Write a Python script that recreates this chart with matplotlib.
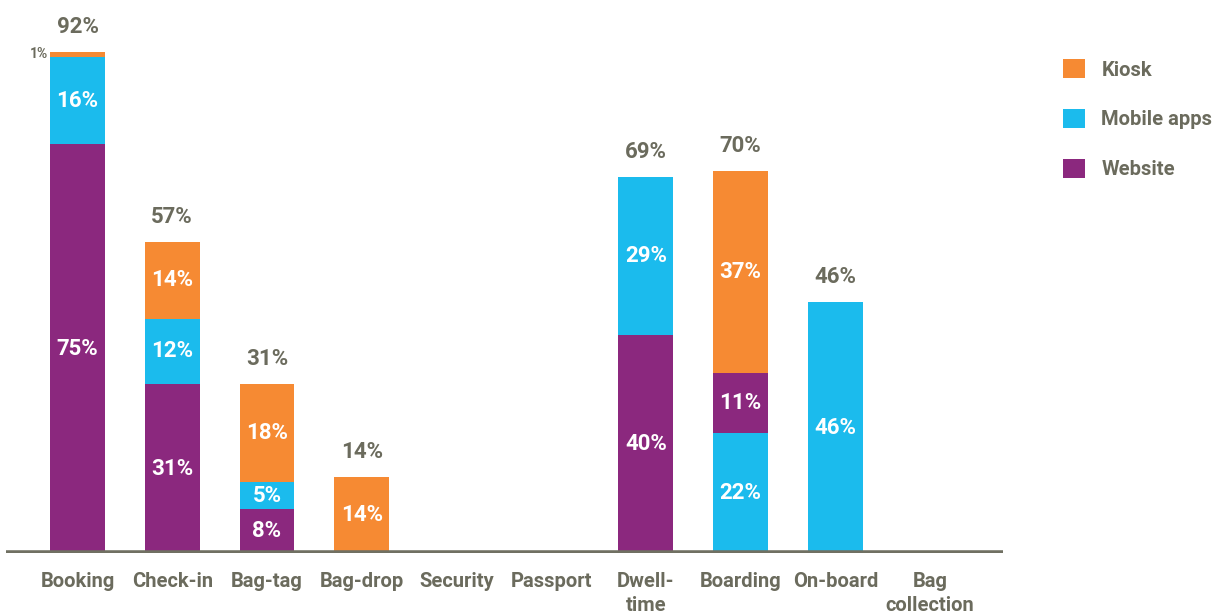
import matplotlib.pyplot as plt
from matplotlib.patches import Patch

# passenger journey steps and self-service channel shares (%)
steps = ["Booking", "Check-in", "Bag-tag", "Bag-drop", "Security", "Passport",
         "Dwell-\ntime", "Boarding", "On-board", "Bag\ncollection"]
website = [75, 31, 8, 0, 0, 0, 40, 11, 0, 0]
mobile_apps = [16, 12, 5, 0, 0, 0, 29, 22, 46, 0]
kiosk = [1, 14, 18, 14, 0, 0, 0, 37, 0, 0]

PURPLE = "#8b287e"
CYAN = "#1bbbed"
ORANGE = "#f68a33"
GRAY = "#6b6b5d"

plt.rcParams["font.family"] = ["Roboto", "DejaVu Sans"]
plt.rcParams["font.weight"] = "bold"

series = {
    "Website": (website, PURPLE),
    "Mobile apps": (mobile_apps, CYAN),
    "Kiosk": (kiosk, ORANGE),
}
default_order = ["Website", "Mobile apps", "Kiosk"]
# boarding puts mobile apps at the bottom of the stack
stack_order = {"Boarding": ["Mobile apps", "Website", "Kiosk"]}

BAR_W = 0.58

fig = plt.figure(figsize=(12.27, 6.15), dpi=100)
ax = fig.add_axes([6 / 1227, 62 / 615, 997 / 1227, 553 / 615])

for i, step in enumerate(steps):
    bottom = 0
    for name in stack_order.get(step, default_order):
        vals, color = series[name]
        v = vals[i]
        if v == 0:
            continue
        ax.bar(i, v, bottom=bottom, width=BAR_W, color=color, linewidth=0)
        if v >= 3:
            ax.text(i, bottom + v / 2, f"{v}%", ha="center", va="center",
                    color="white", fontsize=16, fontweight="bold")
        else:
            ax.text(i - BAR_W / 2 - 0.02, bottom + v / 2, f"{v}%", ha="right",
                    va="center", color=GRAY, fontsize=10, fontweight="bold")
        bottom += v
    if bottom > 0:
        ax.annotate(f"{bottom}%", (i, bottom), xytext=(0, 18),
                    textcoords="offset points", ha="center", va="center",
                    color=GRAY, fontsize=16, fontweight="bold")

ax.axhline(0, color="#707062", linewidth=4, zorder=3)

ax.set_xlim(-0.755, 9.77)
ax.set_ylim(0, 553 / 5.45)
ax.set_xticks(range(len(steps)))
ax.set_xticklabels(steps, fontsize=14.5, fontweight="bold", color=GRAY,
                   linespacing=1.3)
ax.tick_params(axis="x", length=0, pad=14)
ax.set_yticks([])
for s in ax.spines.values():
    s.set_visible(False)

handles = [Patch(facecolor=series[n][1], edgecolor="none")
           for n in ["Kiosk", "Mobile apps", "Website"]]
leg = fig.legend(handles, ["Kiosk", "Mobile apps", "Website"],
                 loc="upper left", bbox_to_anchor=(1045 / 1227, 1 - 41 / 615),
                 frameon=False, fontsize=14.5, handlelength=1.1,
                 handleheight=1.1, handletextpad=0.8, labelspacing=1.45)
for t in leg.get_texts():
    t.set_color(GRAY)
    t.set_fontweight("bold")

fig.savefig("out.png", dpi=100)
